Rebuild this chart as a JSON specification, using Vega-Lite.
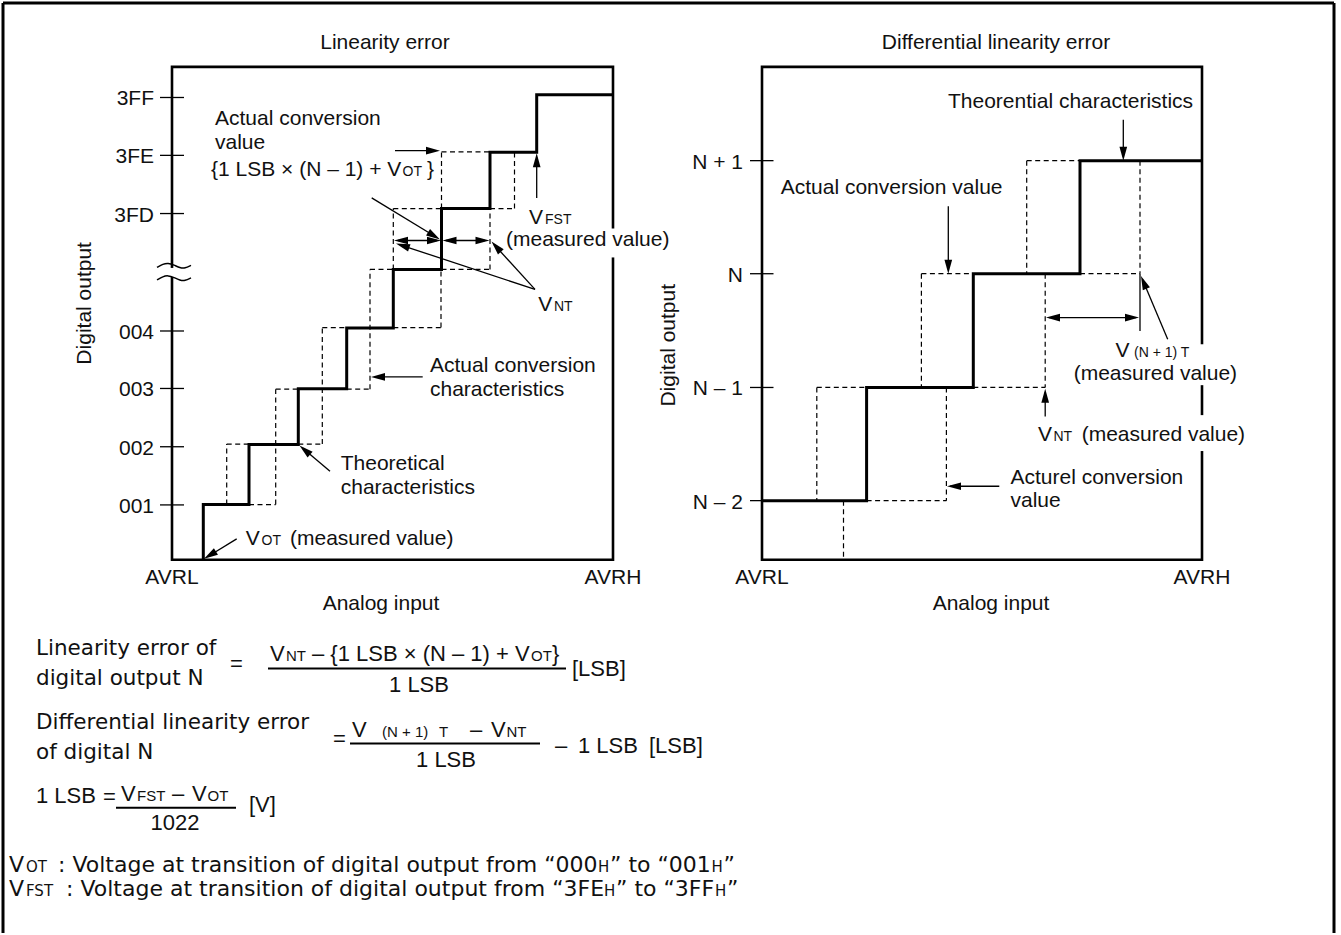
{
  "$schema": "https://vega.github.io/schema/vega-lite/v6.json",
  "width": 1341,
  "height": 935,
  "autosize": {"type": "fit", "contains": "padding"},
  "padding": 0,
  "background": "white",
  "config": {"view": {"stroke": null}},
  "datasets": {
    "frame": [
      {"x": 3, "y": 3, "x2": 1334, "y2": 3},
      {"x": 3, "y": 3, "x2": 3, "y2": 935},
      {"x": 1334, "y": 3, "x2": 1334, "y2": 935}
    ],
    "boxes": [
      {"panel": "linearity", "x": 172, "y": 67, "x2": 613, "y2": 561},
      {"panel": "differential", "x": 762, "y": 67, "x2": 1202, "y2": 561}
    ],
    "ticks": [
      {"x": 160, "y": 97.7, "x2": 184, "y2": 97.7},
      {"x": 160, "y": 155.7, "x2": 184, "y2": 155.7},
      {"x": 160, "y": 214, "x2": 184, "y2": 214},
      {"x": 160, "y": 331.7, "x2": 184, "y2": 331.7},
      {"x": 160, "y": 389.3, "x2": 184, "y2": 389.3},
      {"x": 160, "y": 447.7, "x2": 184, "y2": 447.7},
      {"x": 160, "y": 506, "x2": 184, "y2": 506},
      {"x": 750, "y": 161, "x2": 773.5, "y2": 161},
      {"x": 750, "y": 274.3, "x2": 773.5, "y2": 274.3},
      {"x": 750, "y": 388.3, "x2": 773.5, "y2": 388.3},
      {"x": 750, "y": 501.7, "x2": 773.5, "y2": 501.7}
    ],
    "dashed": [
      {"x": 226.7, "y": 505.7, "x2": 226.7, "y2": 445},
      {"x": 226.7, "y": 445, "x2": 249, "y2": 445},
      {"x": 249, "y": 505.7, "x2": 275.7, "y2": 505.7},
      {"x": 275.7, "y": 505.7, "x2": 275.7, "y2": 390},
      {"x": 275.7, "y": 390, "x2": 298.3, "y2": 390},
      {"x": 298.3, "y": 445, "x2": 322.3, "y2": 445},
      {"x": 322.3, "y": 445, "x2": 322.3, "y2": 328.3},
      {"x": 322.3, "y": 328.3, "x2": 346.7, "y2": 328.3},
      {"x": 346.7, "y": 390, "x2": 370, "y2": 390},
      {"x": 370, "y": 390, "x2": 370, "y2": 270},
      {"x": 370, "y": 270, "x2": 393.3, "y2": 270},
      {"x": 393.3, "y": 328.3, "x2": 441, "y2": 328.3},
      {"x": 441, "y": 328.3, "x2": 441, "y2": 270},
      {"x": 393.3, "y": 270, "x2": 393.3, "y2": 209},
      {"x": 393.3, "y": 209, "x2": 441.5, "y2": 209},
      {"x": 441.5, "y": 270, "x2": 490, "y2": 270},
      {"x": 490, "y": 270, "x2": 490, "y2": 209},
      {"x": 441.5, "y": 209, "x2": 441.5, "y2": 152.3},
      {"x": 441.5, "y": 152.3, "x2": 490, "y2": 152.3},
      {"x": 490, "y": 209, "x2": 514.5, "y2": 209},
      {"x": 514.5, "y": 209, "x2": 514.5, "y2": 152.3},
      {"x": 1026.7, "y": 161, "x2": 1026.7, "y2": 274.3},
      {"x": 1026.7, "y": 161, "x2": 1080, "y2": 161},
      {"x": 1140, "y": 161, "x2": 1140, "y2": 274.3},
      {"x": 1080, "y": 274.3, "x2": 1140, "y2": 274.3},
      {"x": 921.4, "y": 274.3, "x2": 921.4, "y2": 388.3},
      {"x": 921.4, "y": 274.3, "x2": 973.3, "y2": 274.3},
      {"x": 1045.2, "y": 274.3, "x2": 1045.2, "y2": 388.3},
      {"x": 973.3, "y": 388.3, "x2": 1045.2, "y2": 388.3},
      {"x": 816.8, "y": 388.3, "x2": 816.8, "y2": 501.7},
      {"x": 816.8, "y": 388.3, "x2": 866.6, "y2": 388.3},
      {"x": 946.4, "y": 388.3, "x2": 946.4, "y2": 501.7},
      {"x": 866.6, "y": 501.7, "x2": 946.4, "y2": 501.7},
      {"x": 843.5, "y": 501.7, "x2": 843.5, "y2": 561}
    ],
    "stairs": [
      {"panel": "linearity", "i": 0, "x": 203.3, "y": 561},
      {"panel": "linearity", "i": 1, "x": 203.3, "y": 505.7},
      {"panel": "linearity", "i": 2, "x": 249, "y": 505.7},
      {"panel": "linearity", "i": 3, "x": 249, "y": 445.5},
      {"panel": "linearity", "i": 4, "x": 298.3, "y": 445.5},
      {"panel": "linearity", "i": 5, "x": 298.3, "y": 389.5},
      {"panel": "linearity", "i": 6, "x": 346.7, "y": 389.5},
      {"panel": "linearity", "i": 7, "x": 346.7, "y": 328.8},
      {"panel": "linearity", "i": 8, "x": 393.3, "y": 328.8},
      {"panel": "linearity", "i": 9, "x": 393.3, "y": 270},
      {"panel": "linearity", "i": 10, "x": 441.5, "y": 270},
      {"panel": "linearity", "i": 11, "x": 441.5, "y": 209},
      {"panel": "linearity", "i": 12, "x": 490, "y": 209},
      {"panel": "linearity", "i": 13, "x": 490, "y": 152.5},
      {"panel": "linearity", "i": 14, "x": 536.7, "y": 152.5},
      {"panel": "linearity", "i": 15, "x": 536.7, "y": 95},
      {"panel": "linearity", "i": 16, "x": 613, "y": 95},
      {"panel": "differential", "i": 0, "x": 762, "y": 501.7},
      {"panel": "differential", "i": 1, "x": 866.6, "y": 501.7},
      {"panel": "differential", "i": 2, "x": 866.6, "y": 388.3},
      {"panel": "differential", "i": 3, "x": 973.3, "y": 388.3},
      {"panel": "differential", "i": 4, "x": 973.3, "y": 274.3},
      {"panel": "differential", "i": 5, "x": 1080, "y": 274.3},
      {"panel": "differential", "i": 6, "x": 1080, "y": 161},
      {"panel": "differential", "i": 7, "x": 1202, "y": 161}
    ],
    "shafts": [
      {"x": 395, "y": 151, "x2": 436, "y2": 151},
      {"x": 371.7, "y": 198.3, "x2": 436, "y2": 237.5},
      {"x": 398, "y": 241, "x2": 437, "y2": 241},
      {"x": 446, "y": 241, "x2": 485, "y2": 241},
      {"x": 535, "y": 290, "x2": 400, "y2": 245.3},
      {"x": 535, "y": 290, "x2": 494, "y2": 245},
      {"x": 536.7, "y": 198.3, "x2": 536.7, "y2": 158},
      {"x": 422.7, "y": 377.7, "x2": 375, "y2": 377.7},
      {"x": 330, "y": 472.3, "x2": 302.5, "y2": 449},
      {"x": 236.7, "y": 540, "x2": 207.5, "y2": 558},
      {"x": 1123.3, "y": 120, "x2": 1123.3, "y2": 157},
      {"x": 948.3, "y": 206.7, "x2": 948.3, "y2": 270},
      {"x": 1049, "y": 318.3, "x2": 1136, "y2": 318.3},
      {"x": 1140, "y": 274.3, "x2": 1140, "y2": 331.7},
      {"x": 1167.7, "y": 340, "x2": 1142.5, "y2": 280},
      {"x": 1045.2, "y": 417.3, "x2": 1045.2, "y2": 393},
      {"x": 999.3, "y": 487.3, "x2": 950, "y2": 487.3}
    ],
    "heads": [
      {"x": 440, "y": 151, "angle": 90},
      {"x": 440, "y": 240, "angle": 121.4},
      {"x": 394, "y": 241, "angle": 270},
      {"x": 441, "y": 241, "angle": 90},
      {"x": 442.5, "y": 241, "angle": 270},
      {"x": 489.5, "y": 241, "angle": 90},
      {"x": 396, "y": 244, "angle": 288.5},
      {"x": 491.5, "y": 242, "angle": 318.1},
      {"x": 536.7, "y": 153.5, "angle": 0},
      {"x": 371, "y": 377.7, "angle": 270},
      {"x": 299.5, "y": 446.5, "angle": 310.8},
      {"x": 204, "y": 560, "angle": 238.5},
      {"x": 1123.3, "y": 161, "angle": 180},
      {"x": 948.3, "y": 274.3, "angle": 180},
      {"x": 1046, "y": 318.3, "angle": 270},
      {"x": 1139, "y": 318.3, "angle": 90},
      {"x": 1141, "y": 276.5, "angle": 337.4},
      {"x": 1045.2, "y": 389.5, "angle": 0},
      {"x": 947, "y": 487.3, "angle": 270}
    ],
    "knockouts": [
      {"x": 606, "y": 229, "x2": 620, "y2": 258},
      {"x": 1195, "y": 345, "x2": 1209, "y2": 386},
      {"x": 1195, "y": 416, "x2": 1209, "y2": 452},
      {"x": 168, "y": 268.5, "x2": 177, "y2": 277.5}
    ],
    "waves": [
      {"w": 1, "i": 0, "x": 157, "y": 268},
      {"w": 1, "i": 1, "x": 163, "y": 264.5},
      {"w": 1, "i": 2, "x": 168, "y": 263.5},
      {"w": 1, "i": 3, "x": 174, "y": 265.5},
      {"w": 1, "i": 4, "x": 180, "y": 268.5},
      {"w": 1, "i": 5, "x": 185, "y": 269},
      {"w": 1, "i": 6, "x": 191, "y": 266},
      {"w": 2, "i": 0, "x": 157, "y": 280.5},
      {"w": 2, "i": 1, "x": 163, "y": 277},
      {"w": 2, "i": 2, "x": 168, "y": 276},
      {"w": 2, "i": 3, "x": 174, "y": 278},
      {"w": 2, "i": 4, "x": 180, "y": 281},
      {"w": 2, "i": 5, "x": 185, "y": 281.5},
      {"w": 2, "i": 6, "x": 191, "y": 278.5}
    ],
    "labels_left": [
      {"text": "Actual conversion", "x": 215, "y": 125.7},
      {"text": "value", "x": 215, "y": 149},
      {"text": "{1 LSB × (N – 1) + V", "x": 211, "y": 176.7},
      {"text": "}", "x": 427, "y": 176.7},
      {"text": "V", "x": 529, "y": 224},
      {"text": "(measured value)", "x": 506, "y": 246.5},
      {"text": "V", "x": 538.3, "y": 311.7},
      {"text": "Actual conversion", "x": 430, "y": 372.7},
      {"text": "characteristics", "x": 430, "y": 396.7},
      {"text": "Theoretical", "x": 340.7, "y": 470.7},
      {"text": "characteristics", "x": 340.7, "y": 495},
      {"text": "V", "x": 245.7, "y": 545.7},
      {"text": "(measured value)", "x": 290, "y": 545.7},
      {"text": "Theorential characteristics", "x": 948, "y": 108},
      {"text": "Actual conversion value", "x": 780.7, "y": 194},
      {"text": "V", "x": 1115.5, "y": 358},
      {"text": "(measured value)", "x": 1073.7, "y": 381},
      {"text": "V", "x": 1038, "y": 441.7},
      {"text": "(measured value)", "x": 1081.7, "y": 441.7},
      {"text": "Acturel conversion", "x": 1010.5, "y": 485},
      {"text": "value", "x": 1010.5, "y": 508.3}
    ],
    "labels_small": [
      {"text": "OT", "x": 402.5, "y": 176.7},
      {"text": "FST", "x": 545, "y": 224},
      {"text": "NT", "x": 554, "y": 311.7},
      {"text": "OT", "x": 261.5, "y": 545.7},
      {"text": "(N + 1) T", "x": 1134, "y": 358},
      {"text": "NT", "x": 1053.5, "y": 441.7}
    ],
    "labels_center": [
      {"text": "Linearity error", "x": 385, "y": 49.3},
      {"text": "Differential linearity error", "x": 996, "y": 49.3},
      {"text": "AVRL", "x": 172, "y": 585.7},
      {"text": "AVRH", "x": 613, "y": 585.7},
      {"text": "AVRL", "x": 762, "y": 585.7},
      {"text": "AVRH", "x": 1202, "y": 585.7},
      {"text": "Analog input", "x": 381, "y": 611.7},
      {"text": "Analog input", "x": 991, "y": 611.7}
    ],
    "tick_labels": [
      {"text": "3FF", "x": 154, "y": 105.7},
      {"text": "3FE", "x": 154, "y": 163.7},
      {"text": "3FD", "x": 154, "y": 222},
      {"text": "004", "x": 154, "y": 339.7},
      {"text": "003", "x": 154, "y": 397.3},
      {"text": "002", "x": 154, "y": 455.7},
      {"text": "001", "x": 154, "y": 514},
      {"text": "N + 1", "x": 743, "y": 169},
      {"text": "N", "x": 743, "y": 282.3},
      {"text": "N – 1", "x": 743, "y": 396.3},
      {"text": "N – 2", "x": 743, "y": 509.7}
    ],
    "axis_titles": [
      {"text": "Digital output", "x": 91, "y": 304},
      {"text": "Digital output", "x": 675, "y": 346}
    ],
    "desc_text": [
      {"text": "Linearity error of", "x": 36, "y": 656},
      {"text": "digital output N", "x": 36, "y": 686},
      {"text": "Differential linearity error", "x": 36, "y": 731},
      {"text": "of digital N", "x": 36, "y": 761}
    ],
    "foot_text": [
      {"text": "V", "x": 9, "y": 874},
      {"text": ": Voltage at transition of digital output from “000", "x": 58, "y": 874},
      {"text": "” to “001", "x": 610, "y": 874},
      {"text": "”", "x": 723.5, "y": 874},
      {"text": "V", "x": 9, "y": 898},
      {"text": ": Voltage at transition of digital output from “3FE", "x": 66, "y": 898},
      {"text": "” to “3FF", "x": 616, "y": 898},
      {"text": "”", "x": 727, "y": 898}
    ],
    "foot_small": [
      {"text": "OT", "x": 26, "y": 874},
      {"text": "H", "x": 598, "y": 874},
      {"text": "H", "x": 711.5, "y": 874},
      {"text": "FST", "x": 26, "y": 898},
      {"text": "H", "x": 604, "y": 898},
      {"text": "H", "x": 715, "y": 898}
    ],
    "math_text": [
      {"text": "=", "x": 230, "y": 672},
      {"text": "V", "x": 270, "y": 662},
      {"text": "– {1 LSB × (N – 1) + V", "x": 312, "y": 662},
      {"text": "}", "x": 552, "y": 662},
      {"text": "[LSB]", "x": 572, "y": 677},
      {"text": "=", "x": 333, "y": 748},
      {"text": "V", "x": 352, "y": 739},
      {"text": "–", "x": 470, "y": 739},
      {"text": "V", "x": 491, "y": 739},
      {"text": "–", "x": 555, "y": 755},
      {"text": "1 LSB", "x": 578, "y": 755},
      {"text": "[LSB]", "x": 649, "y": 755},
      {"text": "1 LSB", "x": 36, "y": 805},
      {"text": "=", "x": 103, "y": 806},
      {"text": "V", "x": 121, "y": 803},
      {"text": "–", "x": 172, "y": 803},
      {"text": "V", "x": 192, "y": 803},
      {"text": "[V]", "x": 249, "y": 814}
    ],
    "math_center": [
      {"text": "1 LSB", "x": 419, "y": 693},
      {"text": "1 LSB", "x": 446, "y": 769},
      {"text": "1022", "x": 175, "y": 832}
    ],
    "math_small": [
      {"text": "NT", "x": 286, "y": 662},
      {"text": "OT", "x": 531, "y": 662},
      {"text": "(N + 1)", "x": 382, "y": 739},
      {"text": "T", "x": 439, "y": 739},
      {"text": "NT", "x": 506.5, "y": 739},
      {"text": "FST", "x": 137, "y": 803},
      {"text": "OT", "x": 207.5, "y": 803}
    ],
    "bars": [
      {"x": 268, "y": 670, "x2": 566, "y2": 670},
      {"x": 350, "y": 745, "x2": 540, "y2": 745},
      {"x": 116, "y": 809.5, "x2": 236, "y2": 809.5}
    ]
  },
  "encoding": {
    "x": {"field": "x", "type": "quantitative", "scale": {"domain": [0, 1341], "nice": false, "zero": false}, "axis": null},
    "y": {"field": "y", "type": "quantitative", "scale": {"domain": [0, 935], "reverse": true, "nice": false, "zero": false}, "axis": null}
  },
  "layer": [
    {
      "data": {"name": "frame"},
      "mark": {"type": "rule", "color": "black", "strokeWidth": 3},
      "encoding": {"x2": {"field": "x2"}, "y2": {"field": "y2"}}
    },
    {
      "data": {"name": "ticks"},
      "mark": {"type": "rule", "color": "black", "strokeWidth": 1.3},
      "encoding": {"x2": {"field": "x2"}, "y2": {"field": "y2"}}
    },
    {
      "data": {"name": "dashed"},
      "mark": {"type": "rule", "color": "black", "strokeWidth": 1.2, "strokeDash": [5, 3.5]},
      "encoding": {"x2": {"field": "x2"}, "y2": {"field": "y2"}}
    },
    {
      "data": {"name": "boxes"},
      "mark": {"type": "rect", "fill": "transparent", "stroke": "black", "strokeWidth": 2.6},
      "encoding": {"x2": {"field": "x2"}, "y2": {"field": "y2"}}
    },
    {
      "data": {"name": "stairs"},
      "mark": {"type": "line", "color": "black", "strokeWidth": 3, "strokeJoin": "miter", "strokeCap": "butt"},
      "encoding": {"detail": {"field": "panel"}, "order": {"field": "i", "type": "quantitative"}}
    },
    {
      "data": {"name": "shafts"},
      "mark": {"type": "rule", "color": "black", "strokeWidth": 1.3},
      "encoding": {"x2": {"field": "x2"}, "y2": {"field": "y2"}}
    },
    {
      "data": {"name": "heads"},
      "mark": {"type": "point", "shape": "M0,0L0.55,2L-0.55,2Z", "filled": true, "color": "black", "opacity": 1, "size": 196, "strokeWidth": 0},
      "encoding": {"angle": {"field": "angle", "type": "quantitative", "scale": null}}
    },
    {
      "data": {"name": "knockouts"},
      "mark": {"type": "rect", "color": "white", "opacity": 1},
      "encoding": {"x2": {"field": "x2"}, "y2": {"field": "y2"}}
    },
    {
      "data": {"name": "waves"},
      "mark": {"type": "line", "color": "black", "strokeWidth": 1.5, "interpolate": "basis"},
      "encoding": {"detail": {"field": "w"}, "order": {"field": "i", "type": "quantitative"}}
    },
    {
      "data": {"name": "labels_left"},
      "mark": {"type": "text", "font": "Liberation Sans", "fontSize": 21, "align": "left", "baseline": "alphabetic", "color": "#111"},
      "encoding": {"text": {"field": "text"}}
    },
    {
      "data": {"name": "labels_small"},
      "mark": {"type": "text", "font": "Liberation Sans", "fontSize": 14, "align": "left", "baseline": "alphabetic", "color": "#111"},
      "encoding": {"text": {"field": "text"}}
    },
    {
      "data": {"name": "labels_center"},
      "mark": {"type": "text", "font": "Liberation Sans", "fontSize": 21, "align": "center", "baseline": "alphabetic", "color": "#111"},
      "encoding": {"text": {"field": "text"}}
    },
    {
      "data": {"name": "tick_labels"},
      "mark": {"type": "text", "font": "Liberation Sans", "fontSize": 21, "align": "right", "baseline": "alphabetic", "color": "#111"},
      "encoding": {"text": {"field": "text"}}
    },
    {
      "data": {"name": "axis_titles"},
      "mark": {"type": "text", "font": "Liberation Sans", "fontSize": 21, "align": "center", "baseline": "alphabetic", "angle": 270, "color": "#111"},
      "encoding": {"text": {"field": "text"}}
    },
    {
      "data": {"name": "desc_text"},
      "mark": {"type": "text", "font": "DejaVu Sans", "fontSize": 21.5, "align": "left", "baseline": "alphabetic", "color": "#111"},
      "encoding": {"text": {"field": "text"}}
    },
    {
      "data": {"name": "foot_text"},
      "mark": {"type": "text", "font": "DejaVu Sans", "fontSize": 22, "align": "left", "baseline": "alphabetic", "color": "#111"},
      "encoding": {"text": {"field": "text"}}
    },
    {
      "data": {"name": "foot_small"},
      "mark": {"type": "text", "font": "DejaVu Sans", "fontSize": 15, "align": "left", "baseline": "alphabetic", "color": "#111"},
      "encoding": {"text": {"field": "text"}}
    },
    {
      "data": {"name": "math_text"},
      "mark": {"type": "text", "font": "Liberation Sans", "fontSize": 22, "align": "left", "baseline": "alphabetic", "color": "#111"},
      "encoding": {"text": {"field": "text"}}
    },
    {
      "data": {"name": "math_center"},
      "mark": {"type": "text", "font": "Liberation Sans", "fontSize": 22, "align": "center", "baseline": "alphabetic", "color": "#111"},
      "encoding": {"text": {"field": "text"}}
    },
    {
      "data": {"name": "math_small"},
      "mark": {"type": "text", "font": "Liberation Sans", "fontSize": 15, "align": "left", "baseline": "alphabetic", "color": "#111"},
      "encoding": {"text": {"field": "text"}}
    },
    {
      "data": {"name": "bars"},
      "mark": {"type": "rule", "color": "black", "strokeWidth": 2},
      "encoding": {"x2": {"field": "x2"}, "y2": {"field": "y2"}}
    }
  ]
}
